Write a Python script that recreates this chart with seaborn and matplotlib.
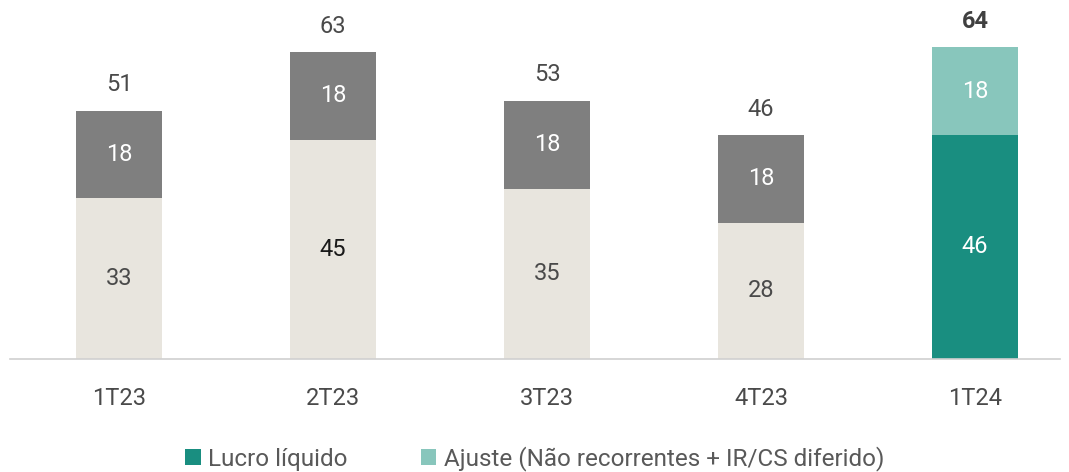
import matplotlib
matplotlib.use("Agg")
import matplotlib.pyplot as plt
import seaborn as sns
import pandas as pd
from matplotlib.patches import Patch

categories = ["1T23", "2T23", "3T23", "4T23", "1T24"]
lucro = [33, 45, 35, 28, 46]
ajuste = [18, 18, 18, 18, 18]
totals = [51, 63, 53, 46, 64]
legend_labels = ["Lucro líquido", "Ajuste (Não recorrentes + IR/CS diferido)"]

beige = "#E8E5DE"
gray = "#7F7F7F"
teal = "#198E80"
lteal = "#88C6BC"
txt = "#404040"

sns.set_theme(style="white")
plt.rcParams["font.family"] = ["Roboto", "DejaVu Sans"]

fig = plt.figure(figsize=(10.69, 4.72), dpi=100)
ax = fig.add_axes([10 / 1069, 113 / 472, 1050 / 1069, 341 / 472])

df = pd.DataFrame({"cat": categories, "lucro": lucro, "ajuste": ajuste, "total": totals})
top_pal = [gray, gray, gray, gray, lteal]
bot_pal = [beige, beige, beige, beige, teal]

sns.barplot(data=df, x="cat", y="total", hue="cat", palette=top_pal, dodge=False,
            width=0.40, legend=False, ax=ax, saturation=1, linewidth=0)
sns.barplot(data=df, x="cat", y="lucro", hue="cat", palette=bot_pal, dodge=False,
            width=0.40, legend=False, ax=ax, saturation=1, linewidth=0)

ax.set_xlim(-0.51, 4.397)
ax.set_ylim(0, 70)
for s in ["top", "right", "left"]:
    ax.spines[s].set_visible(False)
ax.spines["bottom"].set_color("#D0D0D0")
ax.spines["bottom"].set_linewidth(1.2)
ax.set_yticks([])
ax.set_xlabel("")
ax.set_ylabel("")
ax.tick_params(axis="x", length=0, pad=20, labelsize=17, labelcolor="#4a4a4a")

fs = 17
for i in range(len(categories)):
    last = i == len(categories) - 1
    ax.text(i, lucro[i] / 2, str(lucro[i]), ha="center", va="center", fontsize=fs,
            color="white" if last else ("#1a1a1a" if i == 1 else "#4a4a4a"))
    ax.text(i, lucro[i] + ajuste[i] / 2, str(ajuste[i]), ha="center", va="center",
            fontsize=fs, color="white")
    ax.text(i, totals[i] + 5.3, str(totals[i]), ha="center", va="center", fontsize=fs,
            color=txt if last else "#4a4a4a", fontweight="bold" if last else "normal")

handles = [Patch(facecolor=teal, edgecolor="none"), Patch(facecolor=lteal, edgecolor="none")]
fig.legend(handles, legend_labels, loc="center", bbox_to_anchor=(0.5, 13 / 472), ncol=2,
           frameon=False, fontsize=17.5, labelcolor="#595959", handlelength=0.65,
           handleheight=0.65, handletextpad=0.3, columnspacing=3.0)

fig.savefig("out.png", dpi=100)
